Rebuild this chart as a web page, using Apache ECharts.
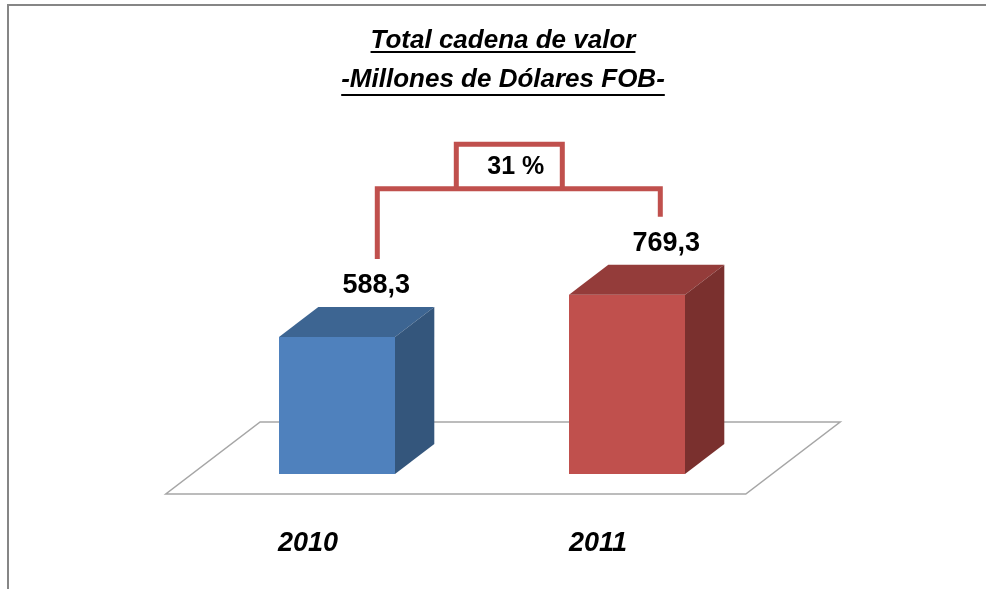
<!DOCTYPE html>
<html>
<head>
<meta charset="utf-8">
<script src="https://cdn.jsdelivr.net/npm/echarts@6/dist/echarts.min.js"></script>
<style>
  html, body { margin: 0; padding: 0; background: #fff; }
  #chart { width: 986px; height: 589px; }
</style>
</head>
<body>
<div id="chart"></div>
<script>
const categories = ['2010', '2011'];
const values = [588.3, 769.3];
const valueLabels = ['588,3', '769,3'];
const growthLabel = '31 %';
const titleLines = ['Total cadena de valor', '-Millones de Dólares FOB-'];

const FONT = '"Liberation Sans", Arial, sans-serif';
const RED = '#C0504D';
const BAR_COLORS = [
  { front: '#4F81BD', top: '#3D6592', side: '#34567C' },
  { front: '#C0504D', top: '#943C3A', side: '#7A302E' }
];
const DEPTH = 30;       // bar depth in px (vertical)
const SLANT = 1.31;     // horizontal shift per px of depth
const FLOOR_FRONT = 20; // floor extends this far in front of the bars
const FLOOR_BACK = 52;  // ... and this far behind

const chart = echarts.init(document.getElementById('chart'));

function textWidth(text, font) {
  const ctx = document.createElement('canvas').getContext('2d');
  ctx.font = font;
  return ctx.measureText(text).width;
}

const TITLE_X = 503;
const titleFont = 'italic bold 26px ' + FONT;
const w1 = textWidth(titleLines[0], titleFont);
const w2 = textWidth(titleLines[1], titleFont);

function renderFloor(params, api) {
  const cs = params.coordSys;
  const yf = cs.y + cs.height + FLOOR_FRONT;
  const yb = cs.y + cs.height - FLOOR_BACK;
  const xf = cs.x - FLOOR_FRONT * SLANT;
  const xb = cs.x + FLOOR_BACK * SLANT;
  return {
    type: 'polygon',
    shape: { points: [[xf, yf], [xf + cs.width, yf], [xb + cs.width, yb], [xb, yb]] },
    style: { fill: '#fff', stroke: '#A6A6A6', lineWidth: 1.5 }
  };
}

function renderBar(params, api) {
  const idx = api.value(0);
  const base = api.coord([idx, 0]);
  const top = api.coord([idx, api.value(1)]);
  const w = api.size([1, 0])[0] * 0.4;
  const x0 = base[0] - w / 2;
  const x1 = base[0] + w / 2;
  const dx = DEPTH * SLANT;
  const dy = DEPTH;
  const c = BAR_COLORS[params.dataIndex];
  return {
    type: 'group',
    children: [
      {
        type: 'rect',
        shape: { x: x0, y: top[1], width: w, height: base[1] - top[1] },
        style: { fill: c.front }
      },
      {
        type: 'polygon',
        shape: { points: [[x0, top[1]], [x1, top[1]], [x1 + dx, top[1] - dy], [x0 + dx, top[1] - dy]] },
        style: { fill: c.top }
      },
      {
        type: 'polygon',
        shape: { points: [[x1, top[1]], [x1 + dx, top[1] - dy], [x1 + dx, base[1] - dy], [x1, base[1]]] },
        style: { fill: c.side }
      },
      {
        type: 'text',
        x: base[0] + dx,
        y: top[1] - dy - 21,
        style: {
          text: valueLabels[params.dataIndex],
          font: 'bold 27px ' + FONT,
          fill: '#000',
          align: 'center',
          verticalAlign: 'middle'
        }
      }
    ]
  };
}

function renderBracket(params, api) {
  const p0 = api.coord([0, values[0]]);
  const p1 = api.coord([1, values[1]]);
  const dx = DEPTH * SLANT;
  const lx = p0[0] + dx + 1;
  const rx = p1[0] + dx - 6;
  const lb = p0[1] - DEPTH - 48;
  const rb = p1[1] - DEPTH - 48;
  const by = Math.min(lb, rb) - 28;
  const cx = (lx + rx) / 2 - 9.5;
  const bx0 = cx - 53;
  const bx1 = cx + 53;
  const ty = by - 44.5;
  return {
    type: 'group',
    children: [
      {
        type: 'polyline',
        shape: { points: [[lx, lb], [lx, by], [rx, by], [rx, rb]] },
        style: { stroke: RED, lineWidth: 5, fill: null }
      },
      {
        type: 'polyline',
        shape: { points: [[bx0, by], [bx0, ty], [bx1, ty], [bx1, by]] },
        style: { stroke: RED, lineWidth: 5, fill: null }
      },
      {
        type: 'text',
        x: cx + 6.5,
        y: by - 22,
        style: {
          text: growthLabel,
          font: 'bold 25px ' + FONT,
          fill: '#000',
          align: 'center',
          verticalAlign: 'middle'
        }
      }
    ]
  };
}

const option = {
  animation: false,
  backgroundColor: '#fff',
  title: [
    {
      text: titleLines[0],
      left: TITLE_X,
      top: 28,
      textAlign: 'center',
      padding: 0,
      textStyle: { fontFamily: FONT, fontSize: 26, fontWeight: 'bold', fontStyle: 'italic', color: '#000' }
    },
    {
      text: titleLines[1],
      left: TITLE_X,
      top: 67,
      textAlign: 'center',
      padding: 0,
      textStyle: { fontFamily: FONT, fontSize: 26, fontWeight: 'bold', fontStyle: 'italic', color: '#000' }
    }
  ],
  graphic: [
    {
      type: 'polyline',
      shape: { points: [[8, 589], [8, 5], [986, 5]] },
      style: { stroke: '#868686', lineWidth: 2, fill: null }
    },
    {
      type: 'line',
      shape: { x1: TITLE_X - w1 / 2, y1: 52, x2: TITLE_X + w1 / 2, y2: 52 },
      style: { stroke: '#000', lineWidth: 2 }
    },
    {
      type: 'line',
      shape: { x1: TITLE_X - w2 / 2, y1: 95, x2: TITLE_X + w2 / 2, y2: 95 },
      style: { stroke: '#000', lineWidth: 2 }
    }
  ],
  grid: { left: 192, right: 214, top: 241, bottom: 115 },
  xAxis: {
    type: 'category',
    data: categories,
    axisLine: { show: false },
    axisTick: { show: false },
    axisLabel: {
      margin: 56,
      padding: [0, 58, 0, 0],
      fontFamily: FONT,
      fontSize: 27,
      fontWeight: 'bold',
      fontStyle: 'italic',
      color: '#000'
    }
  },
  yAxis: {
    type: 'value',
    min: 0,
    max: 1000,
    show: false,
    splitLine: { show: false }
  },
  series: [
    {
      type: 'custom',
      z: 1,
      renderItem: renderFloor,
      data: [[0]],
      silent: true
    },
    {
      type: 'custom',
      z: 2,
      renderItem: renderBar,
      data: values.map((v, i) => [i, v])
    },
    {
      type: 'custom',
      z: 3,
      renderItem: renderBracket,
      data: [[0]],
      silent: true
    }
  ]
};

chart.setOption(option);
</script>
</body>
</html>
